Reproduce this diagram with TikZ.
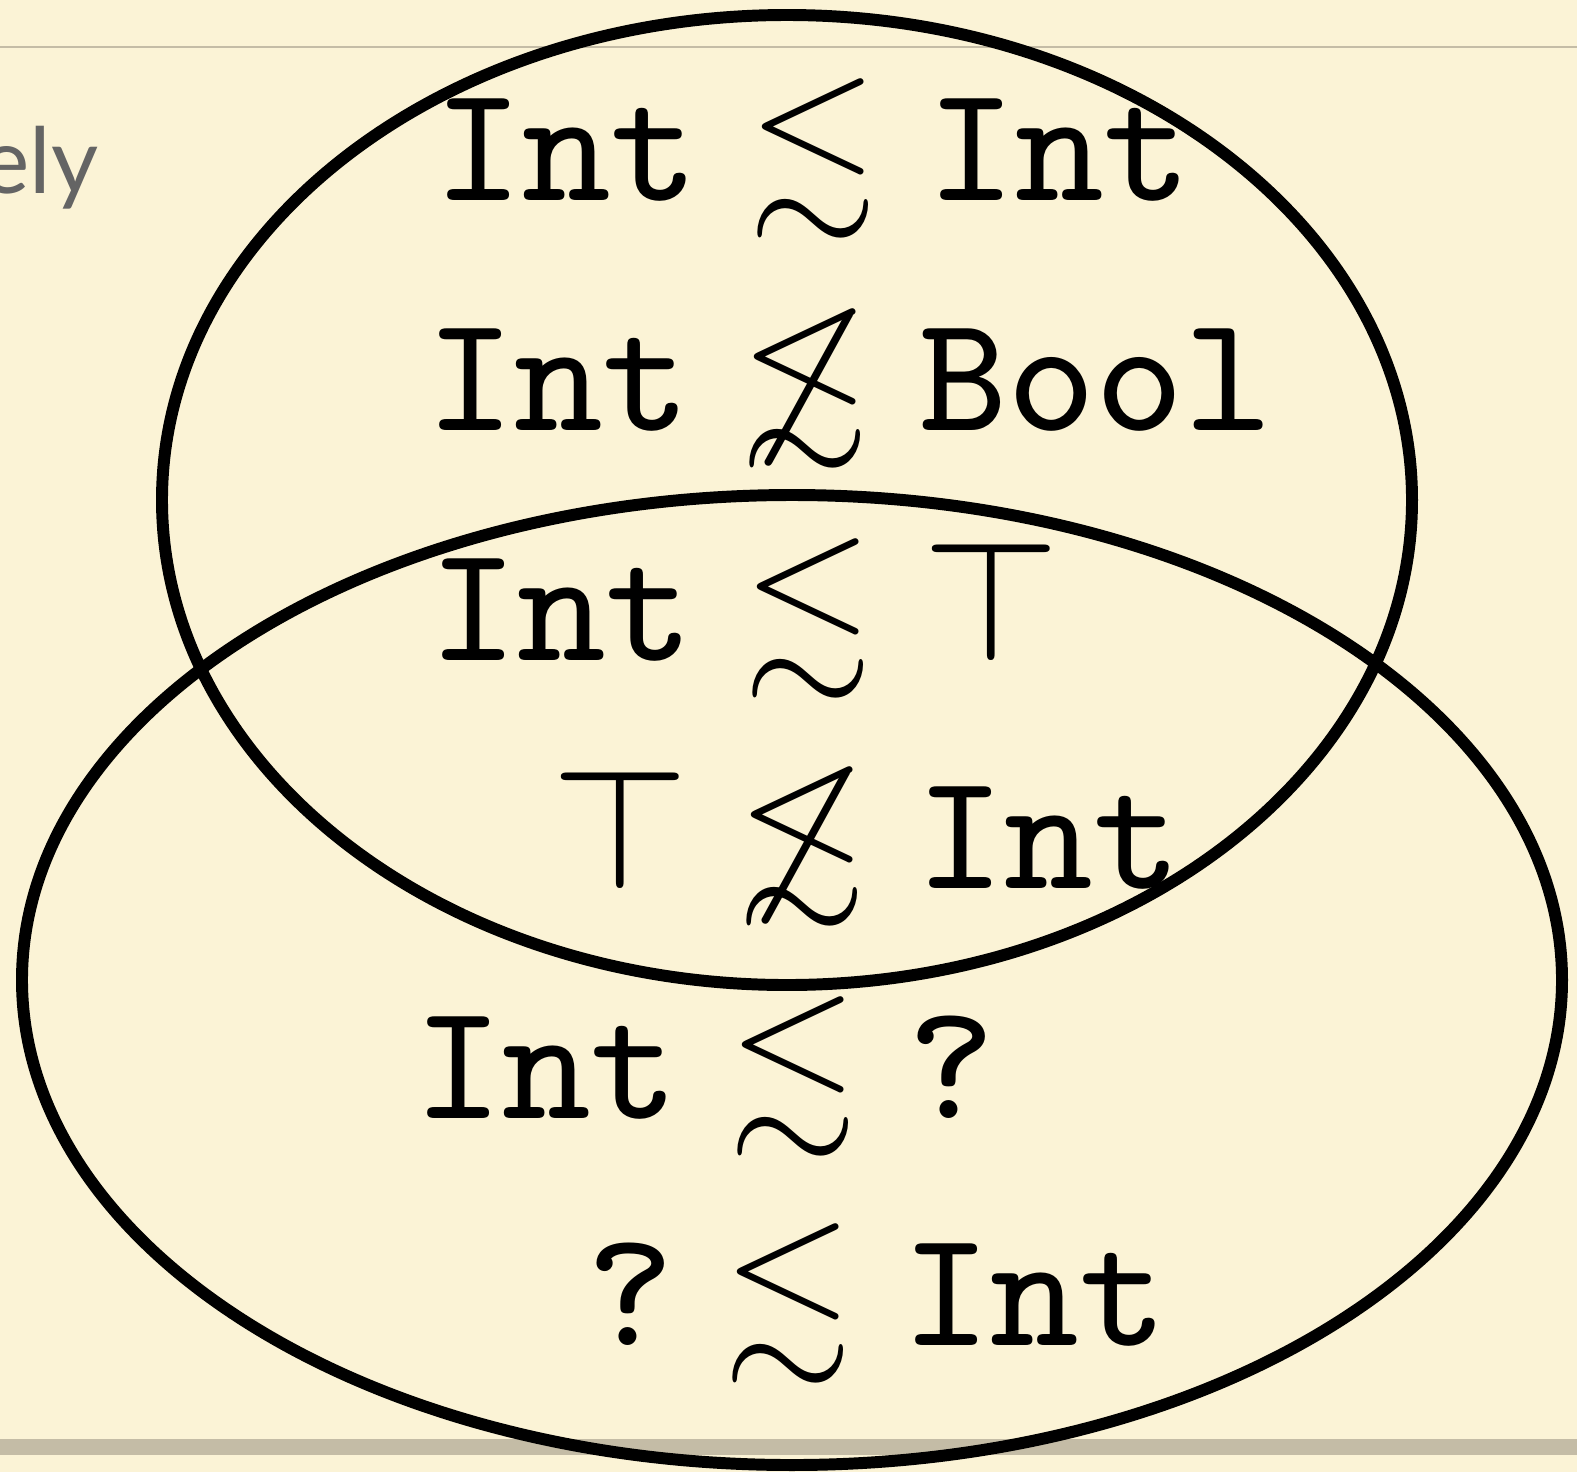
\documentclass[tikz,border=0pt]{standalone}
\usepackage{amssymb}
\usepackage{fontspec}
\newfontfamily\slidefont{Lato}
\definecolor{paper}{RGB}{251,243,214}
\definecolor{rulegray}{RGB}{196,188,166}
\definecolor{captiongray}{RGB}{100,100,100}

\begin{document}
\begin{tikzpicture}[x=1cm, y=1cm,
    venn/.style={draw=black, line width=3.4pt},
    judgement/.style={anchor=base west, inner sep=0pt, scale=5.92, font=\footnotesize}]
    % Slide background
    \fill[paper] (0,0) rectangle (15.77,-14.72);
    \useasboundingbox (0,0) rectangle (15.77,-14.72);
    \clip (0,0) rectangle (15.77,-14.72);

    % Header and footer rules
    \draw[rulegray, line width=0.6pt] (0,-0.47) -- (15.77,-0.47);
    \draw[rulegray, line width=4.5pt] (0,-14.47) -- (15.77,-14.47);

    % End of the slide text
    \node[anchor=base east, inner sep=0pt, text=captiongray,
          font=\slidefont\fontsize{26}{30}\selectfont] (caption) at (0.99,-1.93) {ely};

    % Judgements
    \node[judgement] (row1) at (4.30,-2.00) {$\texttt{Int}\lesssim\texttt{Int}$};
    \node[judgement] (row2) at (4.22,-4.30) {$\texttt{Int}\not\lesssim\texttt{Bool}$};
    \node[judgement] (row3) at (4.25,-6.60) {$\texttt{Int}\lesssim\top$};
    \node[judgement] (row4) at (5.47,-8.88) {$\top\not\lesssim\texttt{Int}$};
    \node[judgement] (row5) at (4.10,-11.18) {$\texttt{Int}\lesssim\texttt{?}$};
    \node[judgement] (row6) at (5.82,-13.45) {$\texttt{?}\lesssim\texttt{Int}$};

    % The two sets
    \draw[venn] (7.87,-5.00) ellipse [x radius=6.25, y radius=4.85];
    \draw[venn] (7.92,-9.80) ellipse [x radius=7.70, y radius=4.85];
\end{tikzpicture}
\end{document}
